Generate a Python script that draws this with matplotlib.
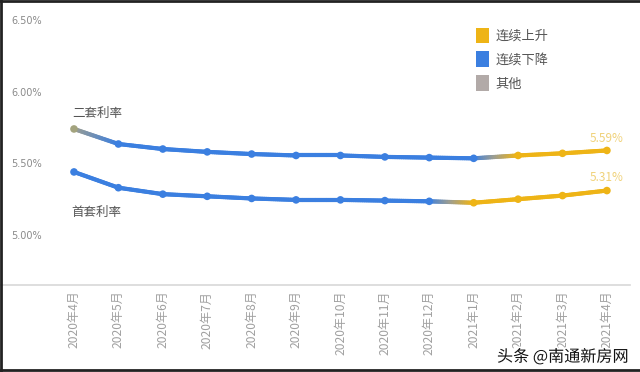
import matplotlib.pyplot as plt
import numpy as np
import matplotlib.patheffects as pe
from matplotlib.collections import LineCollection
from matplotlib.colors import to_rgb
from matplotlib.patches import Patch
from matplotlib.lines import Line2D

plt.rcParams['font.family'] = ['Noto Sans CJK SC', 'DejaVu Sans']

# data
months = ["2020年4月", "2020年5月", "2020年6月", "2020年7月", "2020年8月",
          "2020年9月", "2020年10月", "2020年11月", "2020年12月", "2021年1月",
          "2021年2月", "2021年3月", "2021年4月"]
second_rate = [5.74, 5.635, 5.60, 5.58, 5.565, 5.555, 5.555, 5.545, 5.54, 5.535,
               5.555, 5.57, 5.59]
first_rate = [5.44, 5.33, 5.285, 5.27, 5.255, 5.245, 5.245, 5.24, 5.235, 5.225,
              5.25, 5.275, 5.31]
# trend state of every point
second_state = ["other"] + ["down"] * 9 + ["up"] * 3
first_state = ["down"] * 9 + ["up"] * 4
yticks = [5.00, 5.50, 6.00, 6.50]
legend_labels = ["连续上升", "连续下降", "其他"]

COLORS = {"up": "#EEB416", "down": "#3B7FE0", "other": "#B2AAA8"}
MARK = {"up": "#EEB416", "down": "#3B7FE0", "other": "#A3A37E"}
GRAY = np.array(to_rgb("#9E9E90"))

fig = plt.figure(figsize=(6.4, 3.72), dpi=100)
ax = fig.add_axes([0, (372 - 285) / 372, 630 / 640, 285 / 372])
x = np.arange(len(months))


def grad_line(ys, states):
    segs, cols = [], []
    for i in range(len(ys) - 1):
        c0 = np.array(to_rgb(COLORS[states[i]]))
        c1 = np.array(to_rgb(COLORS[states[i + 1]]))
        n = 24
        for k in range(n):
            t0, t1 = k / n, (k + 1) / n
            tm = (t0 + t1) / 2
            if states[i] == states[i + 1]:
                c = c0
            elif states[i] == "other":
                c = GRAY * (1 - tm) + c1 * tm
            else:
                # pass through gray in the middle
                if tm < 0.5:
                    c = c0 * (1 - 2 * tm) + GRAY * 2 * tm
                else:
                    c = GRAY * (2 - 2 * tm) + c1 * (2 * tm - 1)
            segs.append([(x[i] + t0, ys[i] + (ys[i + 1] - ys[i]) * t0),
                         (x[i] + t1, ys[i] + (ys[i + 1] - ys[i]) * t1)])
            cols.append(c)
    lc = LineCollection(segs, colors=cols, linewidths=3.0, capstyle="round", zorder=2)
    ax.add_collection(lc)
    ax.scatter(x, ys, s=30, c=[MARK[s] for s in states], zorder=3, linewidths=0)


grad_line(second_rate, second_state)
grad_line(first_rate, first_state)

ax.set_xlim(-1.666, 12.52)
ax.set_ylim(4.651, 6.64)

for s in ["top", "right", "left"]:
    ax.spines[s].set_visible(False)
ax.spines["bottom"].set_color("#D8D8D8")
ax.spines["bottom"].set_linewidth(1.2)

ax.set_xticks(x)
ax.set_xticklabels(months, rotation=90, fontsize=8.7, color="#A0A0A0")
ax.tick_params(axis="x", length=0, pad=4)

ax.set_yticks(yticks)
ax.set_yticklabels([f"{v:.2f}%" for v in yticks], fontsize=7, color="#8A8A8A",
                   family="DejaVu Sans")
ax.tick_params(axis="y", length=0, pad=-8)
for lab in ax.get_yticklabels():
    lab.set_horizontalalignment("left")

ax.text(-0.05, 5.845, "二套利率", fontsize=9, color="#555555", ha="left", va="center")
ax.text(-0.05, 5.16, "首套利率", fontsize=9, color="#555555", ha="left", va="center")
ax.text(12.0, second_rate[-1] + 0.08, f"{second_rate[-1]:.2f}%", fontsize=8.5,
        color="#F0D27A", ha="center", va="center")
ax.text(12.0, first_rate[-1] + 0.09, f"{first_rate[-1]:.2f}%", fontsize=8.5,
        color="#F0D27A", ha="center", va="center")

handles = [Patch(facecolor=COLORS[k], edgecolor="none") for k in ["up", "down", "other"]]
fig.legend(handles, legend_labels, loc="upper left", bbox_to_anchor=(469 / 640, 1 - 21 / 372),
           frameon=False, fontsize=9.5, labelcolor="#555555", handlelength=1.05,
           handleheight=1.45, handletextpad=0.45, labelspacing=0.62, borderpad=0)

fig.text(497 / 640, 1 - 357 / 372, "头条 @南通新房网", fontsize=11.6, color="#111111",
         ha="left", va="center",
         path_effects=[pe.withStroke(linewidth=2.5, foreground="white")])

# dark frame on left, top and bottom
for xs, ys in [([0.002, 0.002], [0, 1]), ([0, 1], [0.997, 0.997]), ([0, 1], [0.005, 0.005])]:
    fig.add_artist(Line2D(xs, ys, transform=fig.transFigure, color="#222222", lw=2))

fig.savefig("out.png", dpi=100)
